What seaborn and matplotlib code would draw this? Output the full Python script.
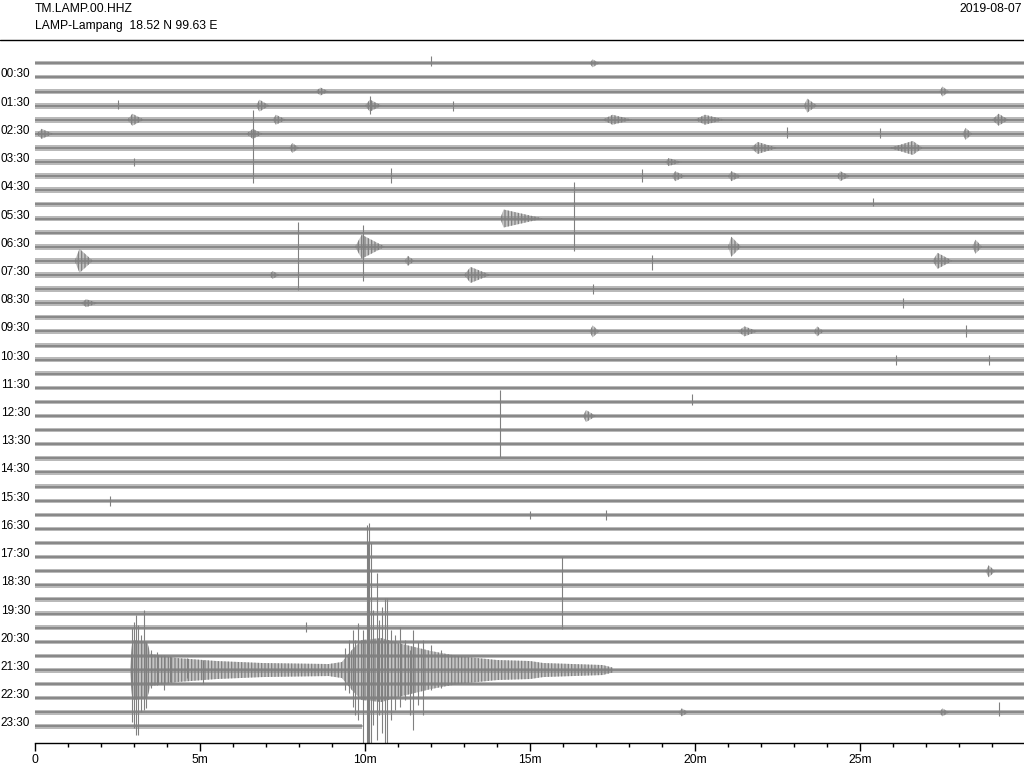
import numpy as np
import pandas as pd
import matplotlib
matplotlib.use("Agg")
import matplotlib.pyplot as plt
from matplotlib.lines import Line2D
from matplotlib.ticker import MultipleLocator, FuncFormatter
from matplotlib.transforms import ScaledTranslation
import seaborn as sns

station = "TM.LAMP.00.HHZ"
site = "LAMP-Lampang  18.52 N 99.63 E"
day = "2019-08-07"

# one trace per half hour, each 30 min long; the last one stops early
trace_end = [30.0] * 47 + [9.9]
# background noise half-width of each trace (px)
noise = [2.0, 2.0, 2.2, 3.0, 3.0, 3.0, 2.8, 3.0, 3.0, 2.8, 2.5, 2.5,
         2.8, 3.0, 3.0, 3.0, 2.8, 2.8, 2.5, 2.8, 2.5, 2.3, 2.3, 2.3,
         2.2, 2.2, 2.2, 2.2, 2.2, 2.2, 2.2, 2.2, 2.2, 2.2, 2.2, 2.2,
         2.2, 2.2, 2.2, 2.2, 2.2, 2.2, 2.2, 2.5, 2.2, 2.2, 2.2, 2.2]

# small local events: (trace, start, peak, end [min], half amplitude [px])
bursts = [(0, 16.8, 16.9, 17.1, 4), (2, 8.5, 8.65, 8.9, 4), (2, 27.4, 27.5, 27.7, 5),
          (3, 6.7, 6.8, 7.1, 6), (3, 10.0, 10.15, 10.5, 6), (3, 23.3, 23.4, 23.7, 7),
          (4, 2.8, 2.95, 3.3, 6), (4, 7.2, 7.3, 7.6, 5), (4, 17.2, 17.5, 18.1, 5),
          (4, 20.0, 20.3, 20.9, 5), (4, 29.0, 29.2, 29.5, 6), (5, 0.05, 0.2, 0.55, 5),
          (5, 6.4, 6.6, 6.9, 5), (5, 28.1, 28.2, 28.4, 6), (6, 7.7, 7.8, 8.0, 5),
          (6, 21.7, 21.9, 22.5, 6), (6, 25.9, 26.6, 26.9, 7), (7, 19.1, 19.2, 19.6, 4),
          (8, 19.3, 19.4, 19.7, 5), (8, 21.0, 21.1, 21.4, 5), (8, 24.3, 24.4, 24.7, 5),
          (11, 14.1, 14.2, 15.4, 9), (13, 9.7, 9.9, 10.6, 12), (13, 21.0, 21.1, 21.4, 10),
          (13, 28.4, 28.5, 28.7, 7), (14, 1.2, 1.35, 1.75, 12), (14, 27.2, 27.35, 27.8, 8),
          (14, 11.2, 11.3, 11.5, 5), (15, 13.0, 13.2, 13.8, 8), (15, 7.1, 7.2, 7.4, 4),
          (17, 1.4, 1.55, 1.9, 4), (19, 16.8, 16.9, 17.1, 6), (19, 21.3, 21.5, 21.9, 5),
          (19, 23.6, 23.7, 23.9, 5), (25, 16.6, 16.7, 17.0, 6), (36, 28.8, 28.9, 29.1, 6),
          (46, 19.5, 19.6, 19.8, 4), (46, 27.4, 27.5, 27.7, 4)]

# single spikes: (trace, minute, up [px], down [px])
spikes = [(0, 12.0, 7, 3), (3, 2.5, 6, 3), (3, 10.15, 10, 8), (3, 12.66, 5, 5),
          (6, 6.6, 38, 35), (7, 3.0, 4, 4), (8, 10.8, 8, 7), (8, 18.4, 7, 6),
          (5, 22.8, 7, 4), (5, 25.6, 6, 4), (10, 25.4, 6, 2), (11, 16.33, 37, 32),
          (13, 7.97, 25, 43), (13, 9.95, 22, 34), (14, 18.7, 6, 9), (16, 16.9, 5, 5),
          (17, 26.3, 5, 5), (19, 28.2, 6, 6), (21, 26.1, 5, 5), (21, 28.9, 5, 5),
          (24, 19.9, 8, 3), (25, 14.1, 26, 41), (31, 2.27, 5, 5), (32, 15.0, 4, 4),
          (32, 17.3, 5, 5), (37, 15.97, 28, 44), (40, 8.2, 6, 4), (46, 29.2, 10, 4)]

# teleseism on the 21:30 trace
quake_trace = 43
quake_env_t = [2.88, 2.95, 3.4, 3.5, 4.3, 5.5, 6.9, 8.9, 9.3, 9.6, 9.9, 10.5,
               11.0, 12.0, 12.8, 14.0, 15.0, 15.4, 17.2, 17.5]
quake_env_amp = [2.5, 30, 28, 16, 12, 9, 7, 6, 8, 20, 30, 32,
                 27, 19, 14, 10, 9, 7, 5, 2.5]
quake_spike_t = [2.93, 3.0, 3.06, 3.13, 3.2, 3.3, 3.36, 3.5, 3.7, 3.9, 4.1, 4.6, 5.1,
                 9.4, 9.5, 9.65, 9.7, 9.8, 9.95,
                 10.05, 10.1, 10.13, 10.18, 10.25, 10.35, 10.42, 10.5, 10.6, 10.67, 10.8,
                 10.9, 11.06, 11.2, 11.36, 11.45, 11.6, 11.76, 12.0, 12.3]
quake_spike_up = [42, 48, 55, 45, 35, 60, 28, 20, 18, 15, 14, 12, 10,
                  22, 30, 40, 30, 47, 40,
                  145, 128, 147, 127, 60, 97, 50, 63, 72, 72, 40,
                  35, 43, 30, 20, 40, 28, 30, 25, 20]
quake_spike_down = [52, 58, 65, 65, 42, 40, 38, 18, 15, 20, 12, 8, 14,
                    20, 23, 37, 45, 50, 75,
                    75, 75, 75, 75, 55, 70, 45, 63, 75, 75, 50,
                    40, 37, 30, 45, 60, 35, 45, 20, 18]

labels = [f"{h:02d}:30" for h in range(24)]

gray = "#808080"
face = (0.5, 0.5, 0.5, 0.45)
spacing = 14.11
top = 63.3

sns.set_theme(style="white")
plt.rcParams["font.family"] = ["Liberation Sans", "DejaVu Sans"]
plt.rcParams["hatch.linewidth"] = 0.9

fig = plt.figure(figsize=(10.24, 7.68), dpi=100)
ax = fig.add_axes([35 / 1024, 25 / 768, 990 / 1024, 698 / 768])
ax.set_xlim(0, 30)
ax.set_ylim(743, 45)

base = [top + spacing * k for k in range(len(trace_end))]

rows = []
for k, end in enumerate(trace_end):
    rows.append({"trace": k, "minute": 0.0, "level": base[k]})
    rows.append({"trace": k, "minute": end, "level": base[k]})
df = pd.DataFrame(rows)
sns.lineplot(data=df, x="minute", y="level", units="trace", estimator=None,
             color=gray, lw=1.2, ax=ax, legend=False)

for k, end in enumerate(trace_end):
    ax.fill_between([0, end], base[k] - noise[k], base[k] + noise[k],
                    color=gray, alpha=0.55, lw=0)

for k, s, p, e, a in bursts:
    ax.fill([s, p, e, p], [base[k], base[k] - a, base[k], base[k] + a],
            facecolor=face, edgecolor=gray, hatch="|||||", lw=0)

for k, t, up, down in spikes:
    ax.vlines(t, base[k] - up, base[k] + down, color=gray, lw=0.8)

qb = base[quake_trace]
env = np.array(quake_env_amp)
ax.fill_between(quake_env_t, qb - env, qb + env, facecolor=face, edgecolor=gray,
                hatch="|||||", lw=0)
ax.vlines(quake_spike_t, qb - np.array(quake_spike_up), qb + np.array(quake_spike_down),
          color=gray, lw=0.8)

for side in ["left", "top", "right"]:
    ax.spines[side].set_visible(False)
ax.spines["bottom"].set_color("black")
ax.spines["bottom"].set_linewidth(1.0)

ax.xaxis.set_major_locator(MultipleLocator(5))
ax.xaxis.set_minor_locator(MultipleLocator(1))
ax.xaxis.set_major_formatter(
    FuncFormatter(lambda v, p: "0" if v == 0 else ("" if v >= 30 else f"{int(v)}m")))
ax.tick_params(axis="x", which="major", bottom=True, length=5.5, width=1, color="black",
               labelsize=8.7, labelcolor="black", pad=2.5, direction="out")
ax.tick_params(axis="x", which="minor", bottom=True, length=3, width=1, color="black",
               direction="out")
ax.set_xlabel("")
ax.set_ylabel("")

ax.set_yticks(base[1::2])
ax.set_yticklabels(labels)
ax.tick_params(axis="y", length=0, pad=3.5, labelsize=8.5, labelcolor="black")
shift = ScaledTranslation(0, 4.5 / 100, fig.dpi_scale_trans)
for lab in ax.get_yticklabels():
    lab.set_transform(lab.get_transform() + shift)

fig.text(35 / 1024, 1 - 9 / 768, station, ha="left", va="center", fontsize=8.7, color="black")
fig.text(35 / 1024, 1 - 26.5 / 768, site, ha="left", va="center", fontsize=8.7, color="black")
fig.text(1022 / 1024, 1 - 9 / 768, day, ha="right", va="center", fontsize=8.7, color="black")
fig.add_artist(Line2D([0, 1], [1 - 39.5 / 768] * 2, color="black", lw=1.0,
                      transform=fig.transFigure))

fig.savefig("out.png", dpi=100)
